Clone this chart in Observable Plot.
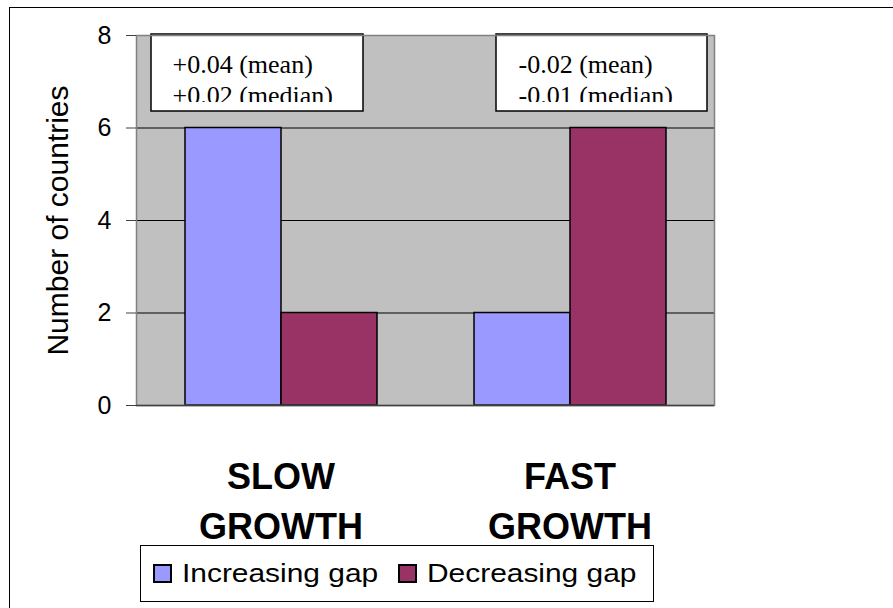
<!DOCTYPE html>
<html>
<head>
<meta charset="utf-8">
<script src="https://cdn.jsdelivr.net/npm/d3@7"></script>
<script src="https://cdn.jsdelivr.net/npm/@observablehq/plot@0.6"></script>
<style>
  html, body { margin: 0; padding: 0; background: #fff; overflow: hidden; }
  body { width: 893px; height: 608px; position: relative; font-family: "Liberation Sans", Arial, sans-serif; }
  #frame { position: absolute; left: 9px; top: 7px; width: 2000px; height: 2000px; border: 1.5px solid #000; }
  #chart { position: absolute; left: 0; top: 0; }
  #legend { position: absolute; left: 140px; top: 545px; width: 514px; height: 57px; border: 1.5px solid #000; box-sizing: border-box; background: #fff; }
  .item { position: absolute; top: 0; height: 100%; display: flex; align-items: center; }
  .swatch { width: 19px; height: 19px; border: 2px solid #000; box-sizing: border-box; margin-right: 10px; }
  .label { font-size: 26px; color: #000; display: inline-block; transform: scaleX(1.15); transform-origin: left center; white-space: nowrap; }
</style>
</head>
<body>
<div id="frame"></div>
<div id="chart"></div>
<script>
// Countries grouped by growth speed, split by whether their gap widened or narrowed
const categories = ["SLOW GROWTH", "FAST GROWTH"];
const categoryLabels = ["SLOW\nGROWTH", "FAST\nGROWTH"];
const series = ["Increasing gap", "Decreasing gap"];
const increasingGap = [6, 2];
const decreasingGap = [2, 6];
const meanChange = ["+0.04", "-0.02"];
const medianChange = ["+0.02", "-0.01"];
const yTicks = [0, 2, 4, 6, 8];
const gridLines = [2, 4, 6];
const seriesColors = ["#9999ff", "#993366"];

const bars = categories.flatMap((cat, i) => [
  {cat, series: series[0], count: increasingGap[i]},
  {cat, series: series[1], count: decreasingGap[i]}
]);
const catRows = categories.map((cat, i) => ({cat, label: categoryLabels[i]}));
const noteRows = categories.map((cat, i) => ({
  cat,
  label: `${meanChange[i]} (mean)\n${medianChange[i]} (median)`
}));

// Boxed statistics note inside one facet
function note(i, {left, right, textDx}) {
  const row = [noteRows[i]];
  const box = {fx: "cat", insetTop: -1, insetBottom: 294, insetLeft: left, insetRight: right};
  return [
    Plot.rect(row, {...box, fill: "white"}),
    Plot.text(row, {
      fx: "cat", text: "label", frameAnchor: "top-left", textAnchor: "start",
      lineAnchor: "top", lineHeight: 31 / 26, fontSize: 26,
      fontFamily: "'Liberation Serif', 'Times New Roman', serif",
      fill: "black", dx: textDx, dy: 15.5
    }),
    // the text frame cuts off the lower part of the second line
    Plot.rect(row, {...box, insetTop: 67, fill: "white"}),
    Plot.rect(row, {...box, fill: "none", stroke: "black", strokeWidth: 1.5})
  ];
}

const chart = Plot.plot({
  width: 893,
  height: 545,
  marginLeft: 136,
  marginRight: 179,
  marginTop: 35,
  marginBottom: 140,
  style: {fontFamily: "'Liberation Sans', Arial, sans-serif", background: "transparent", color: "black"},
  fx: {domain: categories, padding: 0, axis: null},
  x: {domain: series, paddingInner: 0, paddingOuter: 0.5, axis: null},
  y: {domain: [0, 8], axis: null},
  color: {domain: series, range: seriesColors},
  marks: [
    Plot.frame({facet: "super", fill: "#c0c0c0", stroke: "none"}),
    Plot.ruleY(gridLines, {stroke: "black", strokeWidth: 1}),
    Plot.barY(bars, {fx: "cat", x: "series", y: "count", fill: "series", stroke: "black", strokeWidth: 1.5}),
    ...note(0, {left: 15, right: 62, textDx: 36}),
    ...note(1, {left: 71, right: 7, textDx: 93}),
    Plot.frame({facet: "super", stroke: "#808080", strokeWidth: 1.5}),
    Plot.ruleY([0], {stroke: "#404040", strokeWidth: 1.5}),
    Plot.axisY({ticks: yTicks, tickSize: 10, tickPadding: 15, fontSize: 25, label: null, stroke: "#404040", fill: "black"}),
    Plot.text(["Number of countries"], {
      fx: () => categories[0], frameAnchor: "left", textAnchor: "middle", rotate: -90, dx: -78,
      fontSize: 30, fill: "black"
    }),
    Plot.text(catRows, {
      fx: "cat", text: "label", frameAnchor: "bottom", lineAnchor: "top",
      lineHeight: 50 / 36, fontSize: 36, fontWeight: "bold", fill: "black", dy: 47.5
    })
  ]
});
document.getElementById("chart").appendChild(chart);

// Legend below the chart
const legend = document.createElement("div");
legend.id = "legend";
const itemLefts = [12, 257];
series.forEach((name, i) => {
  const item = document.createElement("div");
  item.className = "item";
  item.style.left = itemLefts[i] + "px";
  const sw = document.createElement("span");
  sw.className = "swatch";
  sw.style.background = seriesColors[i];
  const lb = document.createElement("span");
  lb.className = "label";
  lb.textContent = name;
  item.append(sw, lb);
  legend.appendChild(item);
});
document.body.appendChild(legend);
</script>
</body>
</html>
